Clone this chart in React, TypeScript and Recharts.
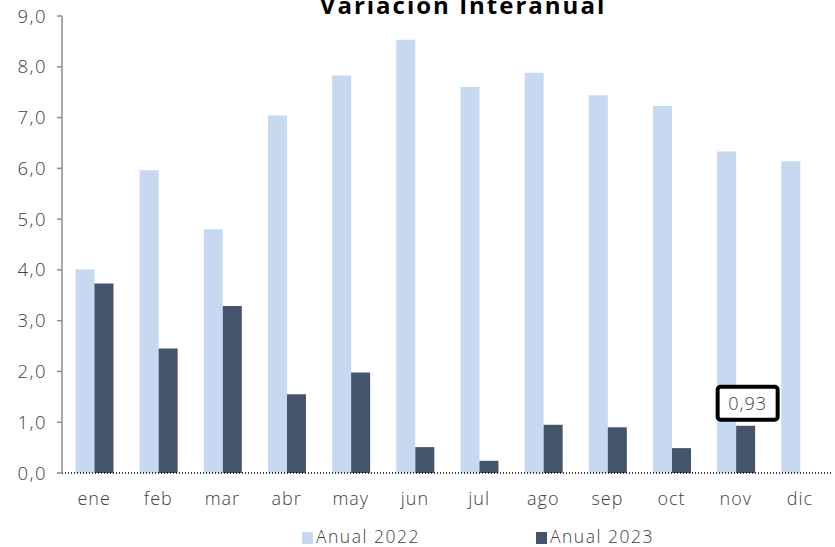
import React from 'react';
import { BarChart, Bar, XAxis, YAxis, LabelList } from 'recharts';

const months = ['ene', 'feb', 'mar', 'abr', 'may', 'jun', 'jul', 'ago', 'sep', 'oct', 'nov', 'dic'];
const anual2022 = [4.01, 5.96, 4.8, 7.04, 7.83, 8.53, 7.6, 7.88, 7.44, 7.23, 6.33, 6.14];
const anual2023: (number | null)[] = [3.73, 2.45, 3.29, 1.55, 1.98, 0.51, 0.24, 0.95, 0.9, 0.49, 0.93, null];
const yTicks = [0, 1, 2, 3, 4, 5, 6, 7, 8, 9];
const labeledIndex = 10;

const LIGHT = '#c6d9f0';
const DARK = '#44546a';
const TEXT = '#404040';
const FONT = '"Open Sans", "Noto Sans", sans-serif';

const data = months.map((m, i) => ({ month: m, a2022: anual2022[i], a2023: anual2023[i] }));

const fmt = (v: number) => v.toFixed(1).replace('.', ',');

// boxed callout for the latest value
const CalloutLabel = (props: any) => {
  const { x, y, width, index, value } = props;
  if (index !== labeledIndex || value == null) return null;
  const cx = x + width / 2 + 2;
  const w = 60;
  const h = 33;
  return (
    <g>
      <rect x={cx - w / 2} y={y - h - 6} width={w} height={h} rx={3} fill="#fff" stroke="#000" strokeWidth={4} />
      <text x={cx} y={y - 6 - h / 2} textAnchor="middle" dominantBaseline="central" fontSize={18} fill={TEXT} fontFamily={FONT} fontWeight={300} letterSpacing={1}>
        {value.toFixed(2).replace('.', ',')}
      </text>
    </g>
  );
};

const App: React.FC = () => {
  return (
    <div style={{ position: 'absolute', left: 0, top: 0, width: 835, height: 547, background: '#fff', fontFamily: FONT }}>
      <BarChart
        width={835}
        height={547}
        data={data}
        margin={{ top: 16, right: 3, left: 0, bottom: 44 }}
        barCategoryGap="21%"
        barGap={0}
      >
        <XAxis
          dataKey="month"
          axisLine={{ stroke: '#000', strokeWidth: 1.5, strokeDasharray: '1 2' }}
          tickLine={false}
          tickSize={0}
          tickMargin={19}
          height={30}
          tick={{ fill: TEXT, fontSize: 18, fontFamily: FONT, fontWeight: 300, letterSpacing: 1 }}
          interval={0}
        />
        <YAxis
          domain={[0, 9]}
          ticks={yTicks}
          tickFormatter={fmt}
          width={62}
          axisLine={{ stroke: '#8c8c8c', strokeWidth: 1.5 }}
          tickLine={{ stroke: '#8c8c8c', strokeWidth: 1.5 }}
          tickSize={5}
          tickMargin={10}
          tick={{ fill: TEXT, fontSize: 18.5, fontFamily: FONT, fontWeight: 300, letterSpacing: 1.5 }}
          allowDataOverflow
        />
        <Bar dataKey="a2022" name="Anual 2022" fill={LIGHT} isAnimationActive={false} />
        <Bar dataKey="a2023" name="Anual 2023" fill={DARK} isAnimationActive={false}>
          <LabelList dataKey="a2023" content={CalloutLabel} />
        </Bar>
      </BarChart>

      <svg width={835} height={30} style={{ position: 'absolute', left: 0, top: 0 }}>
        <text x={463} y={14} textAnchor="middle" fontSize={24} fontWeight={700} fill="#000" fontFamily={FONT} letterSpacing={2}>
          Variación Interanual
        </text>
      </svg>

      <div style={{ position: 'absolute', top: 526, left: 0, width: 835, height: 20, fontSize: 17.5, lineHeight: '20px', fontWeight: 300, color: TEXT, letterSpacing: 1.5 }}>
        <div style={{ position: 'absolute', left: 302, top: 6, width: 11, height: 12, background: LIGHT }} />
        <span style={{ position: 'absolute', left: 316, top: 0, whiteSpace: 'nowrap' }}>Anual 2022</span>
        <div style={{ position: 'absolute', left: 536, top: 6, width: 11, height: 12, background: DARK }} />
        <span style={{ position: 'absolute', left: 550, top: 0, whiteSpace: 'nowrap' }}>Anual 2023</span>
      </div>
    </div>
  );
};

export default App;
